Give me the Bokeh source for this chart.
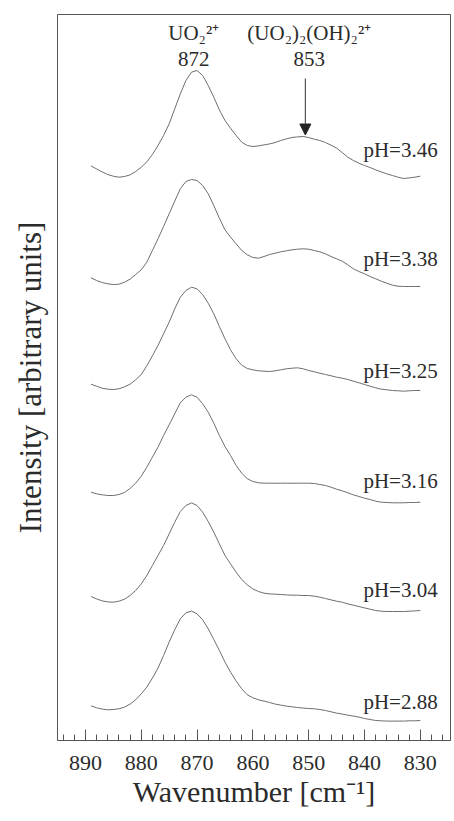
from bokeh.plotting import figure
from bokeh.models import Range1d, FixedTicker, ColumnDataSource, Arrow, NormalHead
from bokeh.core.properties import value
from bokeh.embed import file_html
from bokeh.resources import INLINE

# Raman spectra of uranyl solutions, 889 -> 830 cm-1 in 1 cm-1 steps
wavenumber = list(range(889, 829, -1))

ph_346 = [11.3, 8.3, 5.3, 2.7, 1.0, 0.0, 0.7, 2.3, 5.7, 10.0,
          15.3, 22.7, 31.7, 41.7, 53.3, 68.3, 83.3, 96.7, 105.0, 106.7,
          101.7, 91.7, 80.0, 67.3, 56.7, 49.0, 41.7, 35.0, 31.7, 30.7,
          31.3, 32.3, 33.3, 34.7, 36.7, 38.3, 39.7, 40.3, 40.7, 39.7,
          38.0, 36.7, 34.7, 32.0, 29.0, 24.7, 20.0, 16.7, 14.0, 11.7,
          9.7, 7.3, 5.3, 3.3, 1.7, 0.0, -1.3, -0.7, 0.0, 1.0]
ph_338 = [6.7, 4.0, 2.0, 0.7, 0.0, 0.3, 2.3, 5.3, 10.0, 14.7,
          22.3, 34.0, 45.7, 58.0, 70.7, 83.3, 95.7, 103.0, 105.0, 104.0,
          99.0, 90.7, 79.0, 66.3, 54.7, 47.3, 40.7, 34.0, 29.7, 27.0,
          26.3, 28.0, 30.0, 31.3, 32.7, 33.7, 34.7, 35.3, 35.7, 35.3,
          34.0, 32.7, 30.7, 28.0, 25.7, 23.3, 19.7, 15.7, 13.0, 10.7,
          8.0, 5.7, 3.3, 1.3, -0.7, -1.7, -2.0, -2.0, -2.0, -2.0]
ph_325 = [5.3, 3.3, 1.3, 0.3, 0.0, 0.7, 2.7, 5.3, 9.7, 15.0,
          23.7, 33.7, 44.0, 55.7, 67.3, 80.7, 92.3, 99.0, 102.3, 100.7,
          95.0, 86.3, 75.7, 63.0, 50.7, 39.7, 30.7, 24.3, 21.0, 19.7,
          18.7, 18.3, 18.0, 18.7, 19.7, 20.7, 21.3, 21.7, 20.7, 19.0,
          17.7, 16.3, 15.0, 13.7, 12.3, 11.3, 10.0, 8.3, 6.7, 5.0,
          3.3, 1.7, 0.3, -0.3, -1.0, -1.3, -1.7, -1.3, -1.0, -1.0]
ph_316 = [3.3, 1.7, 0.7, 0.0, 0.0, 1.0, 3.0, 7.0, 12.3, 19.3,
          28.3, 38.3, 48.3, 60.0, 70.7, 81.7, 92.7, 98.3, 100.7, 98.3,
          91.7, 83.3, 72.3, 60.0, 49.0, 40.0, 30.0, 22.3, 16.7, 14.0,
          12.7, 12.3, 12.3, 12.3, 12.3, 12.3, 12.3, 12.3, 12.3, 12.3,
          12.0, 11.0, 10.0, 8.3, 6.3, 4.7, 2.7, 0.7, -1.0, -2.7,
          -4.0, -5.7, -6.7, -7.0, -7.3, -7.3, -7.3, -7.0, -7.0, -6.7]
ph_304 = [5.7, 3.3, 1.3, 0.3, 0.0, 1.0, 3.0, 6.7, 11.7, 18.3,
          26.7, 36.7, 46.7, 56.7, 68.3, 80.0, 90.7, 96.7, 99.3, 96.7,
          90.0, 80.7, 70.0, 58.3, 46.7, 38.3, 30.0, 22.7, 17.3, 13.3,
          10.7, 9.0, 8.3, 8.0, 7.7, 7.3, 7.0, 7.0, 6.7, 6.7,
          6.0, 5.0, 3.7, 2.3, 1.0, 0.0, -1.7, -3.0, -4.3, -5.7,
          -7.0, -8.3, -9.0, -9.3, -9.3, -9.3, -9.3, -9.0, -8.7, -8.3]
ph_288 = [4.0, 2.0, 0.7, 0.0, 0.3, 1.0, 2.7, 5.7, 10.0, 16.0,
          22.7, 31.7, 41.7, 54.3, 67.7, 80.0, 91.0, 97.0, 98.7, 96.0,
          90.0, 81.0, 70.3, 59.3, 47.7, 37.7, 28.7, 21.0, 15.0, 12.0,
          10.0, 8.7, 7.3, 5.7, 4.7, 3.7, 3.0, 2.3, 1.7, 1.3,
          1.0, 0.3, -0.7, -2.0, -3.3, -4.3, -5.3, -6.3, -7.3, -8.7,
          -9.7, -10.7, -11.0, -11.3, -11.3, -11.3, -11.3, -11.0, -11.0, -10.7]

spectra = [ph_346, ph_338, ph_325, ph_316, ph_304, ph_288]
ph_labels = ["pH=3.46", "pH=3.38", "pH=3.25", "pH=3.16", "pH=3.04", "pH=2.88"]

# vertical stacking of the traces and where each pH tag sits above its baseline
stack_offsets = [563.3, 456.0, 351.0, 245.0, 138.3, 30.7]
label_lift = [27.0, 26.0, 19.0, 15.0, 12.0, 8.0]
label_x = 840.2

x_ticks = [890, 880, 870, 860, 850, 840, 830]
minor_x_ticks = list(range(894, 824, -2))

# band assignments written above the top trace
band_species = ["UO\u2082\u00b2\u207a", "(UO\u2082)\u2082(OH)\u2082\u00b2\u207a"]
band_numbers = ["872", "853"]
band_label_x = [870.6, 849.9]
arrow_x = 850.6

SERIF = "Liberation Serif"
LINE = "#6e6e6e"
INK = "#2b2b2b"

p = figure(width=454, height=821, output_backend="svg", toolbar_location=None,
           x_range=Range1d(895.0, 824.6), y_range=Range1d(0, 726),
           min_border_left=57, min_border_right=4, min_border_top=14,
           min_border_bottom=81)
p.grid.visible = False
p.outline_line_color = "#555555"
p.outline_line_width = 1
p.background_fill_color = "white"
p.border_fill_color = "white"

for vals, off in zip(spectra, stack_offsets):
    p.line(wavenumber, [v + off for v in vals], line_color=LINE, line_width=1.0)

# pH tags
tag_src = ColumnDataSource(dict(
    x=[label_x] * len(ph_labels),
    y=[o + l for o, l in zip(stack_offsets, label_lift)],
    text=ph_labels))
p.text(x="x", y="y", text="text", source=tag_src, text_font=value(SERIF),
       text_font_size="21px", text_color=INK, text_align="left",
       text_baseline="middle")

# band assignments
top = stack_offsets[0]
band_src = ColumnDataSource(dict(
    x=band_label_x + band_label_x,
    y=[708.0, 708.0, 682.0, 682.0],
    text=band_species + band_numbers))
p.text(x="x", y="y", text="text", source=band_src, text_font=value(SERIF),
       text_font_size="21px", text_color=INK, text_align="center",
       text_baseline="middle")

# arrow pointing at the dimer band on the top trace
tip = top + ph_346[wavenumber.index(851)] + 1.5
p.add_layout(Arrow(end=NormalHead(size=11, fill_color="#222222", line_color="#222222"),
                   x_start=arrow_x, y_start=662.0, x_end=arrow_x, y_end=tip,
                   line_color="#444444", line_width=1.1))

xa = p.xaxis[0]
xa.ticker = FixedTicker(ticks=x_ticks, minor_ticks=minor_x_ticks)
xa.axis_line_color = "#555555"
xa.major_tick_in = 11
xa.major_tick_out = 0
xa.minor_tick_in = 6
xa.minor_tick_out = 0
xa.major_tick_line_color = "#555555"
xa.minor_tick_line_color = "#555555"
xa.major_label_text_font = SERIF
xa.major_label_text_font_size = "22px"
xa.major_label_text_color = INK
xa.major_label_standoff = 15
xa.axis_label = "Wavenumber [cm\u207b\u00b9]"
xa.axis_label_text_font = SERIF
xa.axis_label_text_font_size = "30px"
xa.axis_label_text_font_style = "normal"
xa.axis_label_text_color = INK
xa.axis_label_standoff = 2

ya = p.yaxis[0]
ya.ticker = FixedTicker(ticks=[])
ya.axis_line_color = None
ya.major_tick_line_color = None
ya.minor_tick_line_color = None
ya.axis_label = "Intensity [arbitrary units]"
ya.axis_label_text_font = SERIF
ya.axis_label_text_font_size = "31px"
ya.axis_label_text_font_style = "normal"
ya.axis_label_text_color = INK
ya.axis_label_standoff = 10

open("out.html", "w").write(file_html(p, INLINE))
